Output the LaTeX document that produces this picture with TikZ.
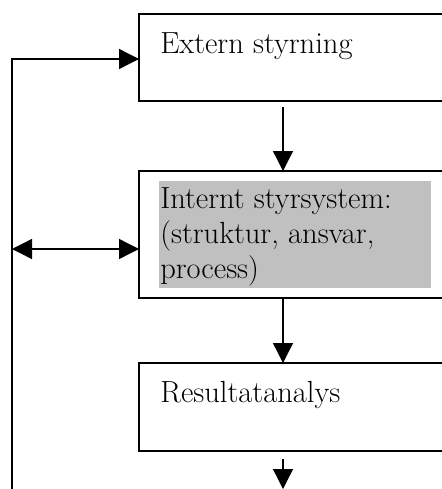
\documentclass[tikz,border=0pt]{standalone}
\usetikzlibrary{arrows.meta}
\definecolor{hlgray}{RGB}{192,192,192}
\tikzset{
  box/.style={draw, line width=1pt, rectangle, anchor=north west, outer sep=0pt, inner sep=0pt, minimum width=240pt},
  lbl/.style={anchor=base west, inner sep=0pt, align=left, font=\fontsize{22.9}{26.25}\selectfont},
  arr/.style={line width=1pt, -{Triangle[length=15pt,width=15pt]}},
  twoway/.style={line width=1pt, {Triangle[length=15pt,width=15pt]}-{Triangle[length=15pt,width=15pt]}},
}

\begin{document}
\begin{tikzpicture}[x=0.75pt,y=0.75pt,yscale=-1,xscale=1]
\useasboundingbox (0,0) rectangle (442,489);
\clip (0,0) rectangle (442,489);

%Boxes
\node[box, minimum height=65.25pt] (ext) at (139,14) {};
\node[box, minimum height=95.25pt] (int) at (139,171) {};
\node[box, minimum height=66pt] (res) at (139,363) {};

%Shading behind text
\node[anchor=north west, fill=hlgray, inner sep=0pt, outer sep=0pt, minimum width=204pt, minimum height=80.25pt] (shade) at (159,181) {};

% Text Node
\node[lbl] (exttext) at (160,53) {Extern styrning};
% Text Node (base = last line)
\node[lbl] (inttext) at (160,278) {Internt styrsystem:\\(struktur, ansvar,\\process)};
% Text Node
\node[lbl] (restext) at (160,402) {Resultatanalys};

%Free ends
\coordinate (mid) at (283,0);
\coordinate (loopend) at (12,495);
\coordinate (looptop) at (12,59);
\coordinate (outend) at (283,489);
\coordinate (fb) at (12,249);

%Connectors
\draw[arr, shorten <=4.5pt] (ext.south -| mid) -- (int.north -| mid);
\draw[arr] (int.south -| mid) -- (res.north -| mid);
\draw[arr, shorten <=6pt] (res.south -| mid) -- (outend);
\draw[arr] (loopend) -- (looptop) -- (looptop -| ext.west);
\draw[twoway] (fb) -- (fb -| int.west);

\end{tikzpicture}
\end{document}
